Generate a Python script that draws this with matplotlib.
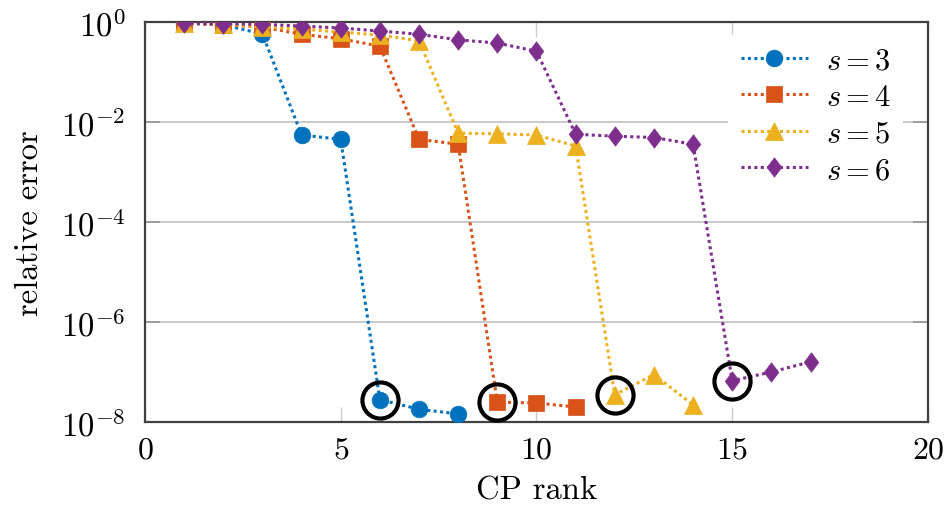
import matplotlib
matplotlib.use("Agg")
import matplotlib.pyplot as plt
from matplotlib.ticker import FixedLocator, NullLocator

plt.rcParams['font.family'] = 'serif'
plt.rcParams['font.serif'] = ['cmr10']
plt.rcParams['mathtext.fontset'] = 'cm'
plt.rcParams['axes.formatter.use_mathtext'] = True

# data
rank3 = [1, 2, 3, 4, 5, 6, 7, 8]
err3 = [0.95, 0.87, 0.58, 5.5e-3, 4.5e-3, 2.8e-8, 1.8e-8, 1.45e-8]
rank4 = [1, 2, 3, 4, 5, 6, 7, 8, 9, 10, 11]
err4 = [0.95, 0.88, 0.79, 0.57, 0.46, 0.33, 4.5e-3, 3.6e-3, 2.5e-8, 2.4e-8, 2.0e-8]
rank5 = [1, 2, 3, 4, 5, 6, 7, 8, 9, 10, 11, 12, 13, 14]
err5 = [0.97, 0.9, 0.8, 0.72, 0.63, 0.55, 0.42, 6.0e-3, 5.8e-3, 5.5e-3, 3.3e-3, 3.5e-8, 8.9e-8, 2.2e-8]
rank6 = [1, 2, 3, 4, 5, 6, 7, 8, 9, 10, 11, 12, 13, 14, 15, 16, 17]
err6 = [0.95, 0.92, 0.9, 0.83, 0.76, 0.66, 0.57, 0.44, 0.38, 0.26, 5.7e-3, 5.2e-3, 4.9e-3, 3.6e-3, 6.7e-8, 1.0e-7, 1.6e-7]
labels = [r'$s=3$', r'$s=4$', r'$s=5$', r'$s=6$']
circ_x = [6, 9, 12, 15]
circ_y = [2.8e-8, 2.5e-8, 3.5e-8, 6.7e-8]
xticks = [0, 5, 10, 15, 20]
yticks = [1e-8, 1e-6, 1e-4, 1e-2, 1e0]

colors = ['#0072BD', '#D95319', '#EDB120', '#7E2F8E']
diamond = [(0, 1), (0.75, 0), (0, -1), (-0.75, 0), (0, 1)]
markers = ['o', 's', '^', diamond]
msizes = [12, 11, 13.5, 14]

fig = plt.figure(figsize=(9.45, 5.06), dpi=100)
ax = fig.add_axes([0.1534, 0.164, 0.8286, 0.7905])

series = [(rank3, err3), (rank4, err4), (rank5, err5), (rank6, err6)]
for (xs, ys), c, m, ms, lab in zip(series, colors, markers, msizes, labels):
    ax.plot(xs, ys, color=c, marker=m, markersize=ms, markeredgewidth=0.5,
            markeredgecolor=c, linestyle=(0, (1, 1.1)), linewidth=2.2, label=lab, zorder=3)

ax.plot(circ_x, circ_y, linestyle='none', marker='o', markersize=26,
        markerfacecolor='none', markeredgecolor='black', markeredgewidth=3, zorder=4)

ax.set_yscale('log')
ax.set_xlim(0, 20)
ax.set_ylim(1e-8, 1e0)
ax.xaxis.set_major_locator(FixedLocator(xticks))
ax.yaxis.set_major_locator(FixedLocator(yticks))
ax.yaxis.set_minor_locator(NullLocator())
ax.xaxis.set_minor_locator(NullLocator())
ax.grid(True, axis='y', color='#c0c0c0', linewidth=1.2, zorder=0)
ax.set_axisbelow(True)
ax.tick_params(axis='x', direction='in', length=11, width=1, color='#cccccc', labelsize=23, pad=10,
               top=True)
ax.tick_params(axis='y', direction='in', length=11, width=1.3, color='#999999', labelsize=23.5, pad=14,
               right=True)
for sp in ax.spines.values():
    sp.set_color('#404040')
    sp.set_linewidth(1.6)

ax.set_xlabel('CP rank', fontsize=23.5, labelpad=9)
ax.set_ylabel('relative error', fontsize=23.5, labelpad=12)

leg = ax.legend(loc='upper right', bbox_to_anchor=(0.9745, 0.98), fontsize=22, frameon=True,
                fancybox=False, edgecolor='none', facecolor='white', framealpha=1,
                handlelength=2.2, borderaxespad=0.15, labelspacing=0.3,
                borderpad=0.4, handletextpad=0.6)

fig.savefig('out.png', dpi=100)
